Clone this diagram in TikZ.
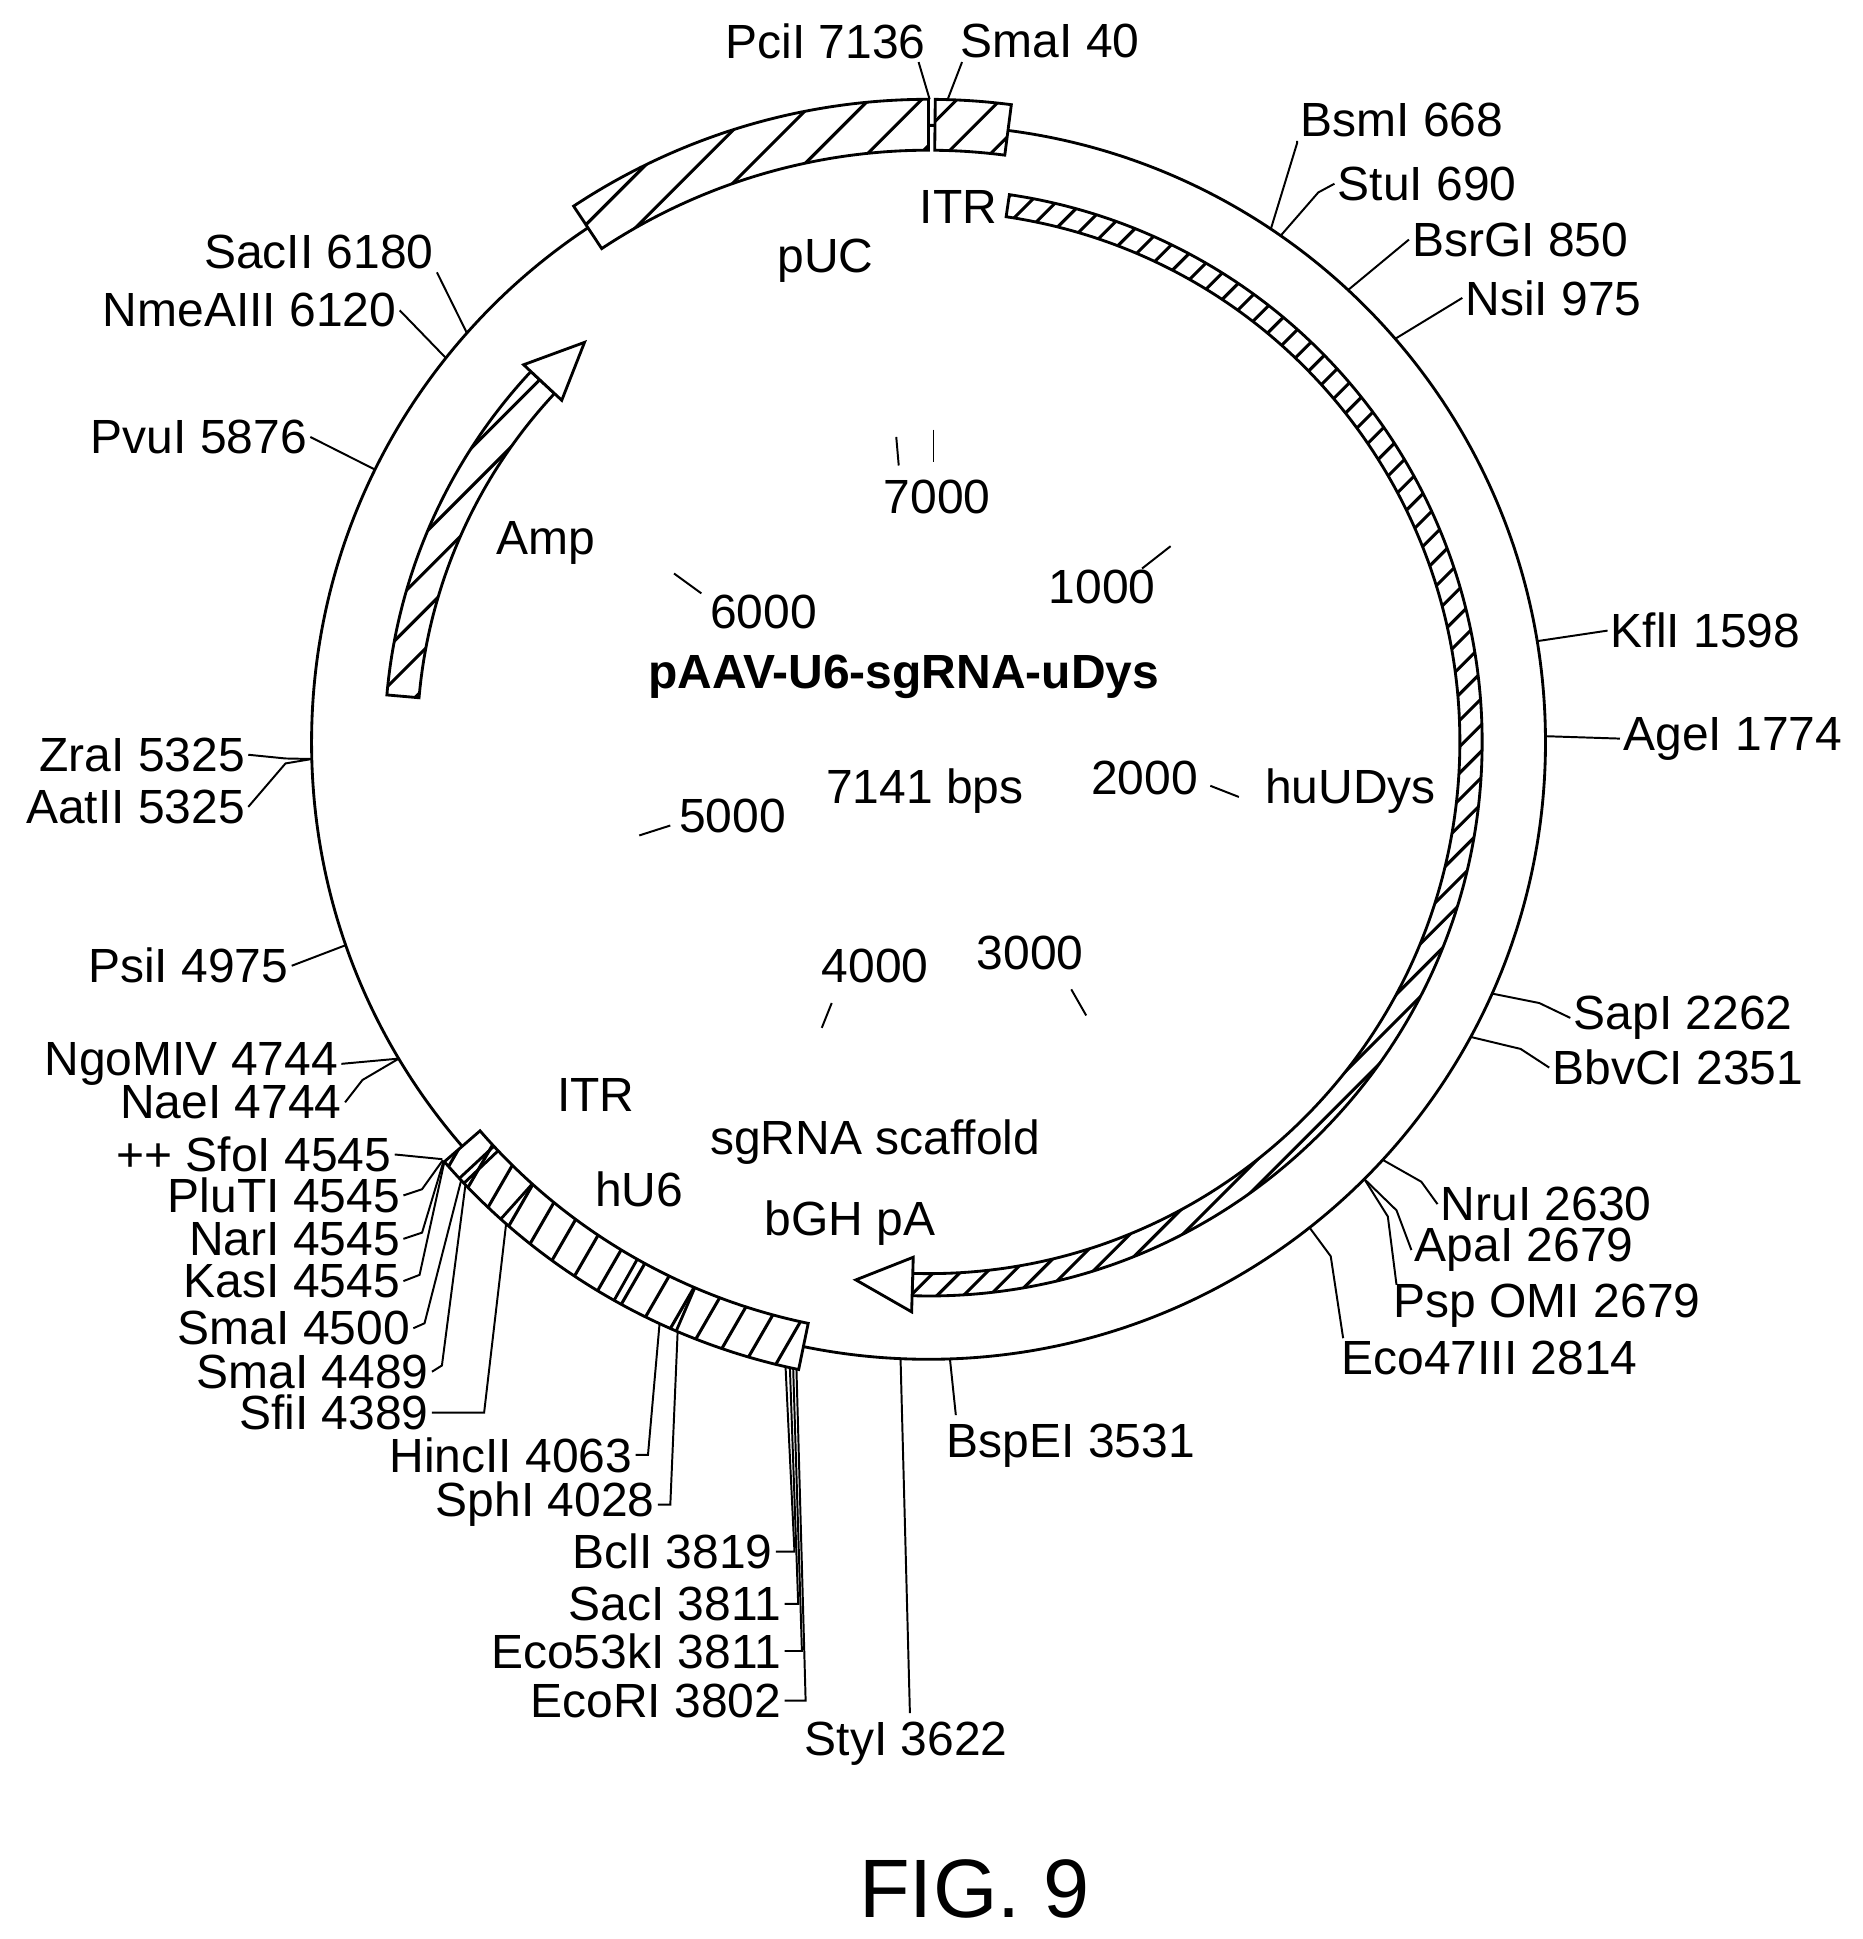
\documentclass[tikz,border=0pt]{standalone}
\usepackage{fontspec}
\setmainfont{Liberation Sans}
\newcommand\bandpath[4]{(#1:#3) arc[start angle=#1,end angle=#2,radius=#3] -- (#2:#4) arc[start angle=#2,end angle=#1,radius=#4] -- cycle}
\newcommand\hatchlines[3]{\foreach \k in {-1000,#1,...,1000} \draw[hl,rotate=#2] (\k,-1000)--(\k,1000);}
\newcommand\hband[7]{% a1 a2 rin rout second-k rot
  \fill[white] \bandpath{#1}{#2}{#3}{#4};
  \begin{scope}\clip \bandpath{#1}{#2}{#3}{#4};\hatchlines{#5}{#6}{}\end{scope}
  \draw[sh] \bandpath{#1}{#2}{#3}{#4};}
\begin{document}
\begin{tikzpicture}[x=0.02cm,y=0.02cm,line width=1.1pt,
 lab/.style={font=\fontsize{22}{25}\selectfont,inner sep=1pt},
 sh/.style={line width=1.3pt},
 hl/.style={line width=1.4pt},
 ld/.style={line width=0.9pt}]
% outer circle
\draw[sh] (0,0) circle[radius=497];
% pUC and SmaI boxes
\hband{123.5}{90.0}{477}{518}{-970}{-45}{}
\hband{89.4}{82.6}{477}{518}{-975}{-45}{}
% huUDys arrow
\hband{81.6}{-91.7}{428}{446}{-985}{-45}{}
\draw[sh,fill=white] (-91.7:415) -- (-97.7:437) -- (-91.7:459) -- (-91.7:446) -- (-91.7:428) -- cycle;
% Amp arrow
\hband{175}{137}{412}{438}{-978}{-45}{}
\draw[sh,fill=white] (137:404) -- (130.7:425) -- (137:446) -- cycle;
% bottom box
\hband{258.3}{220.9}{478}{516}{-978}{-30}{}
\foreach \a in {222.9,223.5,228.1,240.6,246.8} \draw[sh] (\a:478) -- (\a:516);
% circle / box points for leaders
\coordinate (pPcil) at (89.9:518);
\coordinate (pSma40) at (88.3:518);
\foreach \n/\t in {Bsml/56.3,Stul/55.2,BsrGI/47.15,Nsil/40.85,Kfll/9.44,Agel/0.57,Sapl/-24.03,BbvCI/-28.52,Nrul/-42.59,Apal/-45.06,Eco47/-51.86,BspEI/-88.01,Styl/-92.6,Nae/-149.16,Psil/-160.81,Zral/-178.45,Pvul/153.77,Nme/141.47,Sac2/138.44}
  \coordinate (p\n) at (\t:497);
\foreach \n/\t in {EcoRI/-101.9,Eco53/-102.2,Sacl/-102.5,Bcll/-102.9,Sphl/-113.06,Hinc/-114.83,Sfil/-131.26,Sma89/-136.3,Sma00/-136.86,Kasl/-139.1,Narl/-139.2,Plu/-139.3,Sfol/-139.4}
  \coordinate (p\n) at (\t:516);
\begin{scope}[shift={(-748,598)},yscale=-1]
% top
\node[lab] (tPcil) at (665,33) {PciI 7136};
\node[lab] (tSma40) at (846,33) {SmaI 40};
\draw[ld] (pPcil) -- (740,50);
\draw[ld] (pSma40) -- (775,50);
% right side
\node[lab,anchor=west] (tBsml) at (1045,97) {BsmI 668};
\draw[ld] (pBsml) -- (1045,115) -- (tBsml.south west);
\node[lab,anchor=west] (tStul) at (1075,148) {StuI 690};
\draw[ld] (pStul) -- (1062,155) -- (tStul.west);
\node[lab,anchor=west] (tBsrGI) at (1135,193) {BsrGI 850};
\draw[ld] (pBsrGI) -- (tBsrGI.west);
\node[lab,anchor=west] (tNsil) at (1178,240) {NsiI 975};
\draw[ld] (pNsil) -- (tNsil.west);
\node[lab,anchor=west] (tKfll) at (1295,508) {KflI 1598};
\draw[ld] (pKfll) -- (tKfll.west);
\node[lab,anchor=west] (tAgel) at (1305,595) {AgeI 1774};
\draw[ld] (pAgel) -- (tAgel.west);
\node[lab,anchor=west] (tSapl) at (1265,820) {SapI 2262};
\draw[ld] (pSapl) -- (1240,808) -- (tSapl.west);
\node[lab,anchor=west] (tBbvCI) at (1248,860) {BbvCI 2351};
\draw[ld] (pBbvCI) -- (1225,845) -- (tBbvCI.west);
\node[lab,anchor=west] (tNrul) at (1158,970) {NruI 2630};
\draw[ld] (pNrul) -- (1145,952) -- (tNrul.west);
\node[lab,anchor=west] (tApal) at (1137,1007) {ApaI 2679};
\draw[ld] (pApal) -- (1125,975) -- (tApal.west);
\node[lab,anchor=west] (tPsp) at (1120,1052) {Psp OMI 2679};
\draw[ld] (pApal) -- (1118,980) -- (1125,1035);
\node[lab,anchor=west] (tEco47) at (1078,1094) {Eco47III 2814};
\draw[ld] (pEco47) -- (1072,1012) -- (1082,1078);
\node[lab,anchor=west] (tBspEI) at (760,1165) {BspEI 3531};
\draw[ld] (pBspEI) -- (770,1140);
\node[lab] (tStyl) at (730,1405) {StyI 3622};
\draw[ld] (pStyl) -- (733,1380);
% bottom group
\node[lab,anchor=east] (tEcoRI) at (632,1370) {EcoRI 3802};
\draw[ld] (pEcoRI) -- (649,1370) -- (tEcoRI.east);
\node[lab,anchor=east] (tEco53) at (632,1330) {Eco53kI 3811};
\draw[ld] (pEco53) -- (646,1330) -- (tEco53.east);
\node[lab,anchor=east] (tSacl) at (632,1292) {SacI 3811};
\draw[ld] (pSacl) -- (643,1292) -- (tSacl.east);
\node[lab,anchor=east] (tBcll) at (625,1250) {BclI 3819};
\draw[ld] (pBcll) -- (640,1250) -- (tBcll.east);
\node[lab,anchor=east] (tSphl) at (530,1212) {SphI 4028};
\draw[ld] (pSphl) -- (540,1212) -- (tSphl.east);
\node[lab,anchor=east] (tHinc) at (512,1172) {HincII 4063};
\draw[ld] (pHinc) -- (522,1172) -- (tHinc.east);
\node[lab,anchor=east] (tSfil) at (348,1138) {SfiI 4389};
\draw[ld] (pSfil) -- (390,1138) -- (tSfil.east);
\node[lab,anchor=east] (tSma89) at (348,1105) {SmaI 4489};
\draw[ld] (pSma89) -- (356,1100) -- (tSma89.east);
\node[lab,anchor=east] (tSma00) at (333,1070) {SmaI 4500};
\draw[ld] (pSma00) -- (342,1066) -- (tSma00.east);
\node[lab,anchor=east] (tKasl) at (325,1032) {KasI 4545};
\draw[ld] (pKasl) -- (338,1027) -- (tKasl.east);
\node[lab,anchor=east] (tNarl) at (325,998) {NarI 4545};
\draw[ld] (pNarl) -- (340,993) -- (tNarl.east);
\node[lab,anchor=east] (tPlu) at (325,963) {PluTI 4545};
\draw[ld] (pPlu) -- (340,958) -- (tPlu.east);
\node[lab,anchor=east] (tSfol) at (318,930) {++ SfoI 4545};
\draw[ld] (pSfol) -- (tSfol.east);
% left side
\node[lab,anchor=east] (tNae) at (278,888) {NaeI 4744};
\draw[ld] (pNae) -- (292,870) -- (tNae.east);
\node[lab,anchor=east] (tNgo) at (275,857) {NgoMIV 4744};
\draw[ld] (pNae) -- (tNgo.east);
\node[lab,anchor=east] (tPsil) at (235,778) {PsiI 4975};
\draw[ld] (pPsil) -- (tPsil.east);
\node[lab,anchor=east] (tZral) at (200,608) {ZraI 5325};
\draw[ld] (pZral) -- (230,611) -- (tZral.east);
\node[lab,anchor=east] (tAat) at (200,650) {AatII 5325};
\draw[ld] (pZral) -- (230,615) -- (tAat.east);
\node[lab,anchor=east] (tPvul) at (250,352) {PvuI 5876};
\draw[ld] (pPvul) -- (tPvul.east);
\node[lab,anchor=east] (tNme) at (322,250) {NmeAIII 6120};
\draw[ld] (pNme) -- (tNme.east);
\node[lab,anchor=east] (tSac2) at (352,203) {SacII 6180};
\draw[ld] (pSac2) -- (tSac2.south east);
% inner labels
\node[lab] (iITR1) at (772,167) {ITR};
\node[lab] (ipUC) at (665,210) {pUC};
\node[lab] (iAmp) at (440,437) {Amp};
\node[lab] (i7000) at (755,400) {7000};
\node[lab] (i6000) at (615,493) {6000};
\node[lab] (i1000) at (888,473) {1000};
\node[lab,font=\bfseries\fontsize{22}{25}\selectfont] (iname) at (728,545) {pAAV-U6-sgRNA-uDys};
\node[lab] (ibps) at (745,637) {7141 bps};
\node[lab] (i2000) at (922,627) {2000};
\node[lab] (ihu) at (1088,637) {huUDys};
\node[lab] (i5000) at (590,657) {5000};
\node[lab] (i4000) at (705,778) {4000};
\node[lab] (i3000) at (830,768) {3000};
\node[lab] (iITR2) at (480,882) {ITR};
\node[lab] (isg) at (705,920) {sgRNA scaffold};
\node[lab] (ihU6) at (515,958) {hU6};
\node[lab] (ibGH) at (685,985) {bGH pA};
\node[font=\fontsize{38}{42}\selectfont] (fig) at (785,1522) {FIG. 9};
% tick marks
\draw[ld] (722,352) -- (724,375);
\draw[ld] (752,346) -- (752,372);
\draw[ld] (543,462) -- (565,478);
\draw[ld] (920,458) -- (943,440);
\draw[ld] (975,633) -- (998,642);
\draw[ld] (515,673) -- (540,665);
\draw[ld] (662,828) -- (670,808);
\draw[ld] (863,797) -- (875,818);
\useasboundingbox (0,0) rectangle (1500,1562);
\end{scope}
\end{tikzpicture}
\end{document}
